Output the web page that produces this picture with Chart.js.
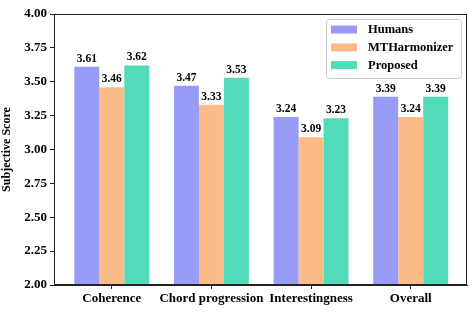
<!DOCTYPE html>
<html lang="en">
<head>
  <meta charset="UTF-8">
  <title>Subjective Score</title>
  <script src="https://cdn.jsdelivr.net/npm/chart.js"></script>
  <style>
    body { margin: 0; background: #fff; }
    #wrap { width: 475px; height: 314px; }
  </style>
</head>
<body>
  <div id="wrap"><canvas id="scoreChart"></canvas></div>

  <script>
    const categories = ['Coherence', 'Chord progression', 'Interestingness', 'Overall'];
    const humans = [3.61, 3.47, 3.24, 3.39];
    const mtharmonizer = [3.46, 3.33, 3.09, 3.24];
    const proposed = [3.62, 3.53, 3.23, 3.39];
    const yTicks = [2.00, 2.25, 2.50, 2.75, 3.00, 3.25, 3.50, 3.75, 4.00];

    const serif = "'Liberation Serif', 'Times New Roman', serif";

    const toPoints = arr => arr.map((v, i) => ({ x: i, y: v }));

    // marco completo alrededor del area del grafico
    const framePlugin = {
      id: 'frame',
      afterDraw(chart) {
        const a = chart.chartArea, c = chart.ctx;
        c.save();
        c.strokeStyle = '#222';
        c.lineWidth = 1;
        c.strokeRect(Math.round(a.left) + 0.5, Math.round(a.top) + 0.5,
          Math.round(a.right - a.left) - 1, Math.round(a.bottom - a.top) - 1);
        c.restore();
      }
    };

    // valores encima de cada barra
    const valueLabels = {
      id: 'valueLabels',
      afterDatasetsDraw(chart) {
        const c = chart.ctx;
        c.save();
        c.font = 'bold 11.5px ' + serif;
        c.fillStyle = '#000';
        c.textAlign = 'center';
        c.textBaseline = 'alphabetic';
        chart.data.datasets.forEach((ds, di) => {
          chart.getDatasetMeta(di).data.forEach((bar, i) => {
            c.fillText(ds.data[i].y.toFixed(2), bar.x, bar.y - 5);
          });
        });
        c.restore();
      }
    };

    // leyenda con caja en la esquina superior derecha
    const boxLegend = {
      id: 'boxLegend',
      afterDraw(chart) {
        const c = chart.ctx;
        const a = chart.chartArea;
        const x0 = a.right - 141, y0 = a.top + 5, w = 135, h = 59;
        c.save();
        c.fillStyle = 'rgba(255,255,255,0.8)';
        c.strokeStyle = '#cccccc';
        c.lineWidth = 1;
        c.beginPath();
        c.roundRect(x0 + 0.5, y0 + 0.5, w, h, 3);
        c.fill();
        c.stroke();
        c.font = 'bold 12.5px ' + serif;
        c.textBaseline = 'middle';
        chart.data.datasets.forEach((ds, i) => {
          const cy = y0 + 10.5 + i * 17.8;
          c.fillStyle = ds.backgroundColor;
          c.fillRect(x0 + 5, cy - 4, 26, 8);
          c.fillStyle = '#000';
          c.fillText(ds.label, x0 + 42, cy + 0.5);
        });
        c.restore();
      }
    };

    new Chart(document.getElementById('scoreChart'), {
      type: 'bar',
      data: {
        datasets: [
          { label: 'Humans', data: toPoints(humans), backgroundColor: '#989bf7' },
          { label: 'MTHarmonizer', data: toPoints(mtharmonizer), backgroundColor: '#febb8a' },
          { label: 'Proposed', data: toPoints(proposed), backgroundColor: '#52dbb8' }
        ]
      },
      options: {
        responsive: true,
        maintainAspectRatio: false,
        animation: false,
        categoryPercentage: 0.752,
        barPercentage: 1.0,
        layout: { padding: { left: 0, right: 8, top: 14, bottom: 0 } },
        plugins: {
          legend: { display: false },
          tooltip: { enabled: false }
        },
        scales: {
          x: {
            type: 'linear',
            offset: false,
            min: -0.58,
            max: 3.565,
            afterBuildTicks: scale => { scale.ticks = categories.map((_, i) => ({ value: i })); },
            afterFit: scale => { scale.height = 29; },
            grid: { offset: false, drawOnChartArea: false, drawTicks: true, tickLength: 4, color: '#222' },
            border: { color: '#222' },
            ticks: {
              callback: v => categories[v],
              font: { family: serif, size: 13, weight: 'bold' },
              color: '#000',
              padding: 2,
              maxRotation: 0,
              autoSkip: false
            }
          },
          y: {
            min: 2,
            max: 4,
            afterBuildTicks: scale => { scale.ticks = yTicks.map(v => ({ value: v })); },
            afterFit: scale => { scale.width = 54; },
            grid: { drawOnChartArea: false, drawTicks: true, tickLength: 4, color: '#222' },
            border: { color: '#222' },
            ticks: {
              callback: v => v.toFixed(2),
              font: { family: serif, size: 13, weight: 'bold' },
              color: '#000',
              padding: 3
            },
            title: {
              display: true,
              text: 'Subjective Score',
              font: { family: serif, size: 12, weight: 'bold' },
              color: '#000',
              padding: { top: 0, bottom: 0 }
            }
          }
        }
      },
      plugins: [framePlugin, valueLabels, boxLegend]
    });
  </script>
</body>
</html>
